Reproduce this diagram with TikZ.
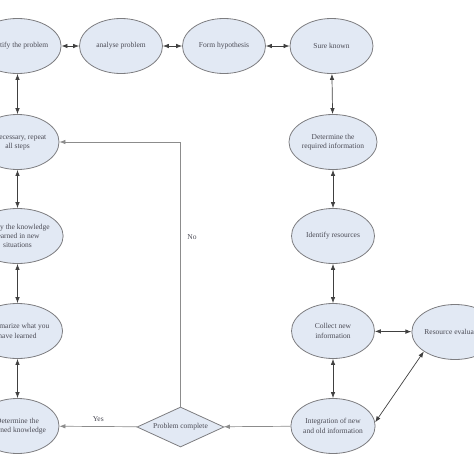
\documentclass[tikz,border=0pt]{standalone}
\usepackage{fontspec}
\setmainfont{Liberation Serif}
\usetikzlibrary{shapes.geometric,arrows.meta}
\definecolor{bubblefill}{RGB}{226,233,244}
\definecolor{bubbleline}{RGB}{125,125,128}
\definecolor{inktext}{RGB}{75,75,85}
\tikzset{
	bubble/.style={ellipse, draw=bubbleline, fill=bubblefill, line width=0.8pt, minimum width=83pt, minimum height=55pt, inner sep=0pt, align=center, text=inktext, font=\fontsize{7.5}{9.3}\selectfont},
	test/.style={diamond, draw=bubbleline, fill=bubblefill, line width=0.8pt, minimum width=87pt, minimum height=40pt, inner sep=0pt, aspect=2.2, text=inktext, font=\fontsize{7.5}{9.3}\selectfont},
	link/.style={{Latex[length=6pt,width=4.5pt]}-{Latex[length=6pt,width=4.5pt]}, line width=0.7pt, draw=black!75},
	flow/.style={-{Latex[length=6pt,width=4.5pt]}, line width=0.7pt, draw=black!45},
	tag/.style={text=inktext, font=\fontsize{7.5}{9.3}\selectfont}
}

\begin{document}
\begin{tikzpicture}[x=1pt,y=-1pt]
			%%%%% START %%%%%
			\useasboundingbox (0,0) rectangle (474,474);
			\clip (0,0) rectangle (474,474);
			
			% top row
			\node[bubble] (identify) at (17.5, 46) {Identify the problem};
			\node[bubble] (analyse) at (121, 46) {analyse problem};
			\node[bubble] (hypo) at (224, 46) {Form hypothesis};
			\node[bubble] (known) at (331.5, 46) {Sure known};
			
			% right column
			\node[bubble] (required) at (333, 142) {Determine the\\required information};
			\node[bubble] (resources) at (333, 236) {Identify resources};
			\node[bubble] (collect) at (333, 331) {Collect new\\information};
			\node[bubble] (integrate) at (333, 426) {Integration of new\\and old information};
			\node[bubble] (evaluate) at (455, 332) {Resource evaluation};
			
			% left column
			\node[bubble] (repeat) at (17.5, 142) {If necessary, repeat\\all steps};
			\node[bubble] (apply) at (17.5, 236) {Apply the knowledge\\learned in new\\situations};
			\node[bubble] (summarize) at (17.5, 331) {Summarize what you\\have learned};
			\node[bubble] (learned) at (17.5, 426) {Determine the\\learned knowledge};
			
			\node[test] (complete) at (180.5, 427) {Problem complete};
			
			% two way links
			\draw[link] (identify) -- (analyse);
			\draw[link] (analyse) -- (hypo);
			\draw[link] (hypo) -- (known);
			\draw[link] (known) -- (required);
			\draw[link] (required) -- (resources);
			\draw[link] (resources) -- (collect);
			\draw[link] (collect) -- (integrate);
			\draw[link] (collect) -- (evaluate);
			\draw[link] (integrate.5) -- (evaluate.212);
			\draw[link] (identify) -- (repeat);
			\draw[link] (repeat) -- (apply);
			\draw[link] (apply) -- (summarize);
			\draw[link] (summarize) -- (learned);
			
			% decision
			\draw[flow] (integrate) -- (complete);
			\draw[flow] (complete) -- (learned) node[tag, midway, above=1pt] {Yes};
			\draw[flow] (complete.north) |- (repeat.east);
			\node[tag] (no) at (192, 237) {No};
			
			%%%%% END %%%%%
\end{tikzpicture}
\end{document}
